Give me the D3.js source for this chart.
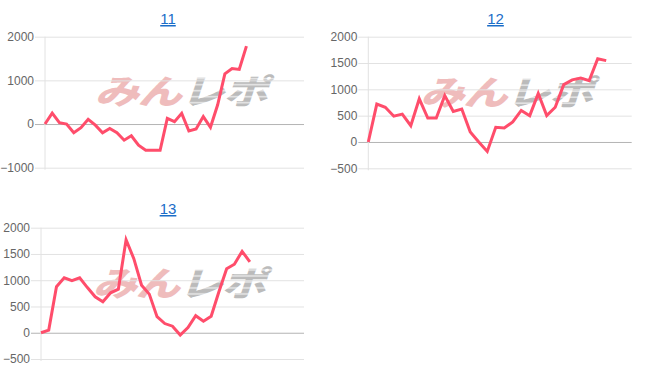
<!DOCTYPE html>
<html>
<head>
<meta charset="utf-8">
<script src="https://cdn.jsdelivr.net/npm/d3@7"></script>
<style>
  body { margin: 0; background: #fff; }
  svg { display: block; font-family: "Liberation Sans", Arial, sans-serif; }
</style>
</head>
<body>
<script>
// chart titles
var titles = ["11", "12", "13"];

// number of x slots on each chart (data only fills the first part)
var slotCounts = [37, 32, 35];

// values per chart
var values11 = [0, 250, 30, 0, -200, -85, 110, -25, -200, -100, -200, -370, -270, -485,
    -600, -600, -600, 130, 55, 245, -160, -115, 170, -75, 440, 1150, 1270, 1250, 1785];
var values12 = [0, 720, 660, 490, 530, 310, 820, 455, 455, 880, 580, 625, 190, 0, -180,
    280, 265, 380, 600, 500, 920, 500, 660, 1090, 1180, 1215, 1165, 1580, 1545];
var values13 = [0, 50, 875, 1045, 990, 1045, 860, 685, 590, 760, 830, 1770, 1410, 905,
    735, 305, 175, 125, -45, 100, 325, 220, 315, 780, 1220, 1305, 1550, 1350];

// y tick values per chart
var ticks11 = [-1000, 0, 1000, 2000];
var ticks12 = [-500, 0, 500, 1000, 1500, 2000];
var ticks13 = [-500, 0, 500, 1000, 1500, 2000];

var width = 652, height = 382;

var svg = d3.select("body").append("svg")
    .attr("width", width)
    .attr("height", height);

// striped grey fill for the watermark
var pat = svg.append("defs").append("pattern")
    .attr("id", "stripes")
    .attr("patternUnits", "userSpaceOnUse")
    .attr("width", 8)
    .attr("height", 6);
pat.append("rect").attr("width", 8).attr("height", 6).style("fill", "#bbbbbb");
pat.append("rect").attr("y", 4).attr("width", 8).attr("height", 1.2).style("fill", "#f4f4f4");

// layout boxes for each panel
var panels = [
    { title: titles[0], values: values11, slots: slotCounts[0], ticks: ticks11,
      x0: 45, x1: 304, y0: 36.7, y1: 167.7, tx: 168, ty: 24 },
    { title: titles[1], values: values12, slots: slotCounts[1], ticks: ticks12,
      x0: 368.3, x1: 631.7, y0: 36.7, y1: 168.3, tx: 495.5, ty: 24 },
    { title: titles[2], values: values13, slots: slotCounts[2], ticks: ticks13,
      x0: 41, x1: 304, y0: 227.7, y1: 359, tx: 168, ty: 214 }
];

panels.forEach(drawPanel);

function drawPanel(p) {
    var g = svg.append("g");

    var x = d3.scaleLinear()
        .domain([0, p.slots - 1])
        .range([p.x0, p.x1]);

    var y = d3.scaleLinear()
        .domain([d3.min(p.ticks), d3.max(p.ticks)])
        .range([p.y1, p.y0]);

    // title (link style)
    g.append("text")
        .attr("x", p.tx)
        .attr("y", p.ty)
        .attr("text-anchor", "middle")
        .style("font-size", "15px")
        .style("fill", "#1a6dc8")
        .style("text-decoration", "underline")
        .text(p.title);

    // watermark
    var wm = g.append("g")
        .attr("transform", "translate(" + ((p.x0 + p.x1) / 2 + 10) + "," + ((p.y0 + p.y1) / 2 - 10) + ")");
    var wt = wm.append("text")
        .attr("text-anchor", "middle")
        .attr("dy", "0.36em")
        .attr("transform", "scale(1.3,1) skewX(-14)")
        .style("font-family", "'Noto Sans CJK JP', sans-serif")
        .style("font-weight", 900)
        .style("font-size", "34px")
        .style("letter-spacing", "-1px");
    wt.append("tspan").style("fill", "#efbcbc").text("みん");
    wt.append("tspan").style("fill", "url(#stripes)").text("レポ");

    // y axis with gridlines
    var yAxis = d3.axisLeft(y)
        .tickValues(p.ticks)
        .tickSize(-(p.x1 - p.x0) - 10)
        .tickPadding(2)
        .tickFormat(d3.format("d"));

    var ya = g.append("g")
        .attr("transform", "translate(" + p.x1 + ",0)")
        .call(yAxis);
    ya.select(".domain").remove();
    ya.selectAll(".tick line")
        .attr("x1", -(p.x1 - p.x0) - 10)
        .attr("x2", 0)
        .style("stroke", function(d) { return d === 0 ? "#b4b4b4" : "#e2e2e2"; });
    ya.selectAll(".tick text")
        .attr("x", -(p.x1 - p.x0) - 11)
        .style("font-size", "12px")
        .style("fill", "#666")
        .style("font-family", "'Liberation Sans', Arial, sans-serif");

    // left vertical axis line
    g.append("line")
        .attr("x1", p.x0).attr("x2", p.x0)
        .attr("y1", p.y0).attr("y2", p.y1 + 2)
        .style("stroke", "#e2e2e2");

    // data line
    var line = d3.line()
        .x(function(d, i) { return x(i); })
        .y(function(d) { return y(d); });

    g.append("path")
        .datum(p.values)
        .attr("d", line)
        .style("fill", "none")
        .style("stroke", "#ff4d6b")
        .style("stroke-width", 3)
        .style("stroke-linejoin", "miter");
}
</script>
</body>
</html>
